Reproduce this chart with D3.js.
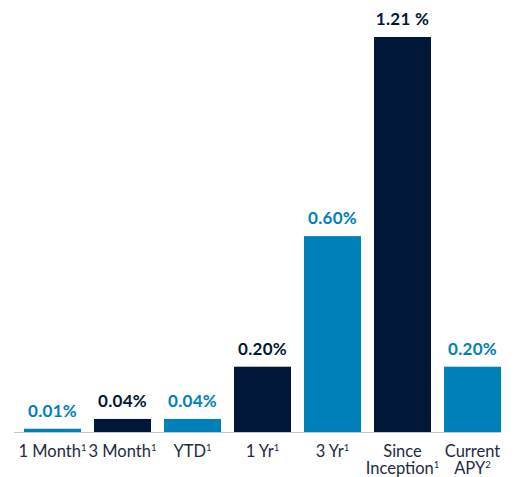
<!DOCTYPE html>
<html>
<head>
<meta charset="utf-8">
<script src="https://cdn.jsdelivr.net/npm/d3@7"></script>
<style>
  body { margin: 0; background: #fff; }
  text { font-family: Lato, "Open Sans", sans-serif; }
</style>
</head>
<body>
<div id="graph"></div>
<script>
// chart data
var categories = ["1 Month", "3 Month", "YTD", "1 Yr", "3 Yr", "Since Inception", "Current APY"];
var values = [0.01, 0.04, 0.04, 0.20, 0.60, 1.21, 0.20];
var valueLabels = ["0.01%", "0.04%", "0.04%", "0.20%", "0.60%", "1.21 %", "0.20%"];
var labelLines = [["1 Month"], ["3 Month"], ["YTD"], ["1 Yr"], ["3 Yr"], ["Since", "Inception"], ["Current", "APY"]];
var footnotes = ["1", "1", "1", "1", "1", "1", "2"];
var dark = [false, true, false, true, false, true, false];

var width = 518, height = 477;
var lightBlue = "#0080b9", navy = "#011738";

var svg = d3.select("#graph").append("svg")
    .attr("width", width)
    .attr("height", height);

var x = d3.scaleBand()
    .domain(categories)
    .range([17.5, 507.5])
    .paddingInner(0.186)
    .paddingOuter(0.093);

var y = d3.scaleLinear()
    .domain([0, 1.21])
    .range([432, 37]);

var data = categories.map(function(c, i) {
    return {cat: c, v: values[i], label: valueLabels[i], lines: labelLines[i], fn: footnotes[i], dark: dark[i]};
});

svg.selectAll(".bar")
    .data(data)
    .enter()
    .append("rect")
    .attr("class", "bar")
    .attr("x", function(d) { return x(d.cat); })
    .attr("width", x.bandwidth())
    .attr("y", function(d) { return y(d.v); })
    .attr("height", function(d) { return y(0) - y(d.v); })
    .attr("fill", function(d) { return d.dark ? navy : lightBlue; });

// value labels
svg.selectAll(".val")
    .data(data)
    .enter()
    .append("text")
    .attr("class", "val")
    .attr("x", function(d) { return x(d.cat) + x.bandwidth() / 2; })
    .attr("y", function(d) { return y(d.v) - 12; })
    .attr("text-anchor", "middle")
    .attr("font-size", 17)
    .attr("font-weight", "bold")
    .attr("letter-spacing", 0.3)
    .attr("fill", function(d) { return d.dark ? navy : lightBlue; })
    .text(function(d) { return d.label; });

// baseline
svg.append("line")
    .attr("x1", 14).attr("x2", 501)
    .attr("y1", y(0) + 0.5).attr("y2", y(0) + 0.5)
    .attr("stroke", "#c8c8c8")
    .attr("stroke-width", 1.2);

// category labels, one text per line
data.forEach(function(d) {
    var cx = x(d.cat) + x.bandwidth() / 2;
    d.lines.forEach(function(line, i) {
        var t = svg.append("text")
            .attr("class", "cat")
            .attr("x", cx)
            .attr("y", 457 + i * 17)
            .attr("text-anchor", "middle")
            .attr("font-size", 16.5)
            .attr("fill", "#1e2a44")
            .text(line);
        if (i === d.lines.length - 1) {
            t.append("tspan")
                .attr("font-size", 9.5)
                .attr("dy", -6)
                .text(d.fn);
        }
    });
});
</script>
</body>
</html>
